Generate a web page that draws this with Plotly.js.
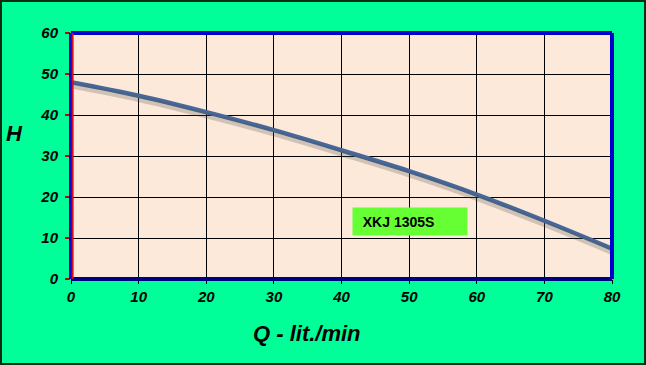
<!DOCTYPE html>
<html><head><meta charset="utf-8">
<script src="https://cdn.plot.ly/plotly-3.0.1.min.js"></script>
<style>
html,body{margin:0;padding:0;background:#00FF99;}
#wrap{position:relative;width:646px;height:365px;}
#chart{width:646px;height:365px;}
#frame{position:absolute;left:0;top:0;width:646px;height:365px;box-sizing:border-box;border:2px solid #0b2b14;pointer-events:none;}
</style></head><body>
<div id="wrap"><div id="chart"></div><div id="frame"></div></div>
<script>
const flowQ = [0, 10, 20, 30, 40, 50, 60, 70, 80];
const headH = [48, 44.7, 40.7, 36.3, 31.4, 26.3, 20.6, 14.2, 7.4];
const seriesName = 'XKJ 1305S';
const xTicks = [0, 10, 20, 30, 40, 50, 60, 70, 80];
const yTicks = [0, 10, 20, 30, 40, 50, 60];

const fam = 'Liberation Sans, Arial, sans-serif';
const tickFont = {family: fam, size: 15, color: '#000', weight: 'bold', style: 'italic'};
const titleFont = {family: fam, size: 22, color: '#000', weight: 'bold', style: 'italic'};

const traces = [
  {x: flowQ, y: headH, yaxis: 'y2', mode: 'lines', line: {color: 'rgba(80,80,80,0.25)', width: 6, shape: 'spline'}, hoverinfo: 'skip', showlegend: false},
  {x: flowQ, y: headH, mode: 'lines', name: seriesName, line: {color: '#46689A', width: 4.5, shape: 'spline'}, showlegend: false}
];

const layout = {
  width: 646, height: 365,
  paper_bgcolor: '#00FF99', plot_bgcolor: '#FDE9D9',
  margin: {l: 71, r: 34, t: 33, b: 86},
  showlegend: false,
  xaxis: {range: [0, 80], tickvals: xTicks, ticktext: xTicks.map(String), showgrid: true, gridcolor: '#000', gridwidth: 1,
    zeroline: false, ticks: 'outside', ticklen: 4, tickcolor: '#000', tickfont: tickFont, fixedrange: true},
  yaxis: {range: [0, 60], tickvals: yTicks, ticktext: yTicks.map(String), showgrid: true, gridcolor: '#000', gridwidth: 1,
    zeroline: false, ticks: 'outside', ticklen: 5, tickwidth: 2, tickcolor: '#C00000', tickfont: tickFont, fixedrange: true,
    ticklabelstandoff: 4},
  yaxis2: {range: [0.8, 60.8], overlaying: 'y', visible: false, showgrid: false, zeroline: false, fixedrange: true},
  shapes: [
    {type: 'line', xref: 'paper', yref: 'paper', x0: 0, x1: 1, y0: 1, y1: 1, line: {color: '#0000CC', width: 4}},
    {type: 'line', xref: 'paper', yref: 'paper', x0: 1, x1: 1, y0: 0, y1: 1, line: {color: '#0000CC', width: 4}},
    {type: 'line', xref: 'paper', yref: 'paper', x0: 0, x1: 1, y0: 0, y1: 0, line: {color: '#000080', width: 4}},
    {type: 'line', xref: 'paper', yref: 'paper', x0: 0, x1: 0, y0: 0, y1: 1, line: {color: '#0000CC', width: 4}},
    {type: 'line', xref: 'paper', yref: 'paper', x0: 0.003, x1: 0.003, y0: 0, y1: 1, line: {color: '#D01020', width: 2}}
  ],
  annotations: [
    {xref: 'paper', yref: 'paper', x: 0.627, y: 0.234, xanchor: 'center', yanchor: 'middle', text: '&nbsp;&nbsp;<b>' + seriesName + '</b>',
     showarrow: false, bgcolor: '#66FF33', width: 110, height: 23, align: 'left', borderpad: 2,
     font: {family: fam, size: 14, color: '#000'}},
    {xref: 'paper', yref: 'paper', x: -0.105, y: 0.593, xanchor: 'center', yanchor: 'middle', text: 'H', showarrow: false, font: titleFont},
    {xref: 'paper', yref: 'paper', x: 0.436, y: -0.22, xanchor: 'center', yanchor: 'middle', text: 'Q - lit./min', showarrow: false, font: titleFont}
  ]
};
Plotly.newPlot('chart', traces, layout, {staticPlot: true, displayModeBar: false});
</script></body></html>
